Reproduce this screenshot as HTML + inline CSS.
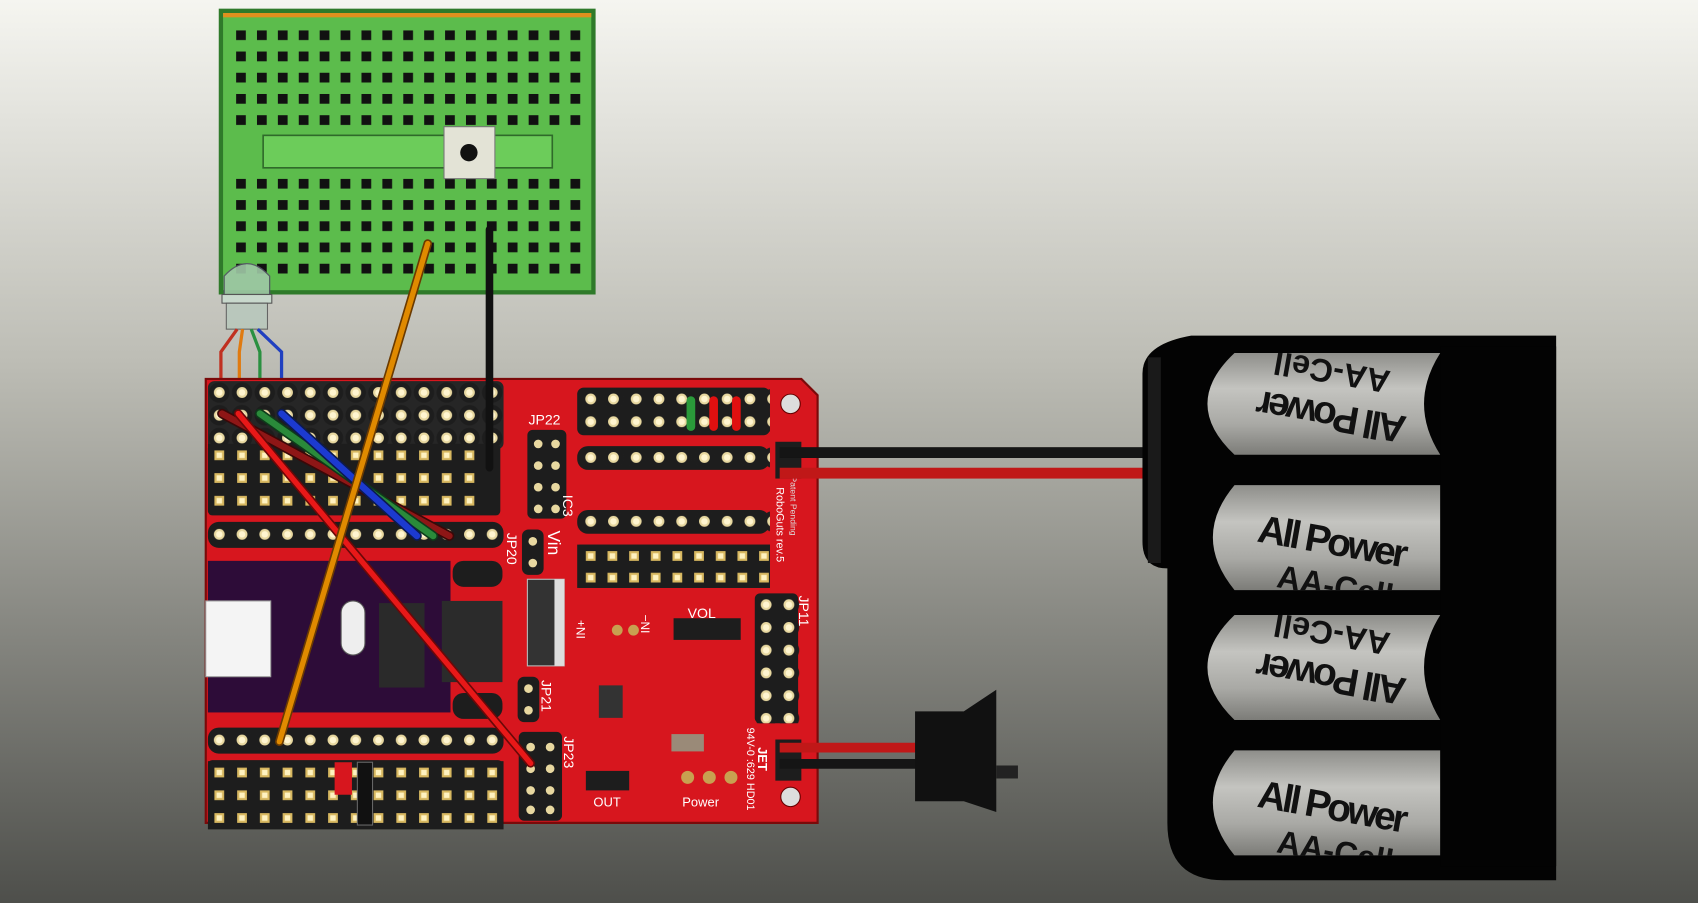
<!DOCTYPE html>
<html><head><meta charset="utf-8"><style>
html,body{margin:0;padding:0;width:1698px;height:903px;overflow:hidden}
svg{display:block}
text{font-family:"Liberation Sans",sans-serif}
</style></head><body>
<svg width="1698" height="903" viewBox="0 0 1568 834" preserveAspectRatio="none" xmlns="http://www.w3.org/2000/svg">
<defs>
<linearGradient id="bg" x1="0" y1="0" x2="0" y2="1">
<stop offset="0" stop-color="#f5f5f0"/><stop offset="0.4" stop-color="#bdbdb5"/><stop offset="1" stop-color="#4e4f4b"/>
</linearGradient>
<linearGradient id="cell" x1="0" y1="0" x2="0" y2="1">
<stop offset="0" stop-color="#8e8e8a"/><stop offset="0.35" stop-color="#c4c4c0"/><stop offset="0.7" stop-color="#a9a9a5"/><stop offset="1" stop-color="#7c7c78"/>
</linearGradient>
<pattern id="bbholes" x="218" y="28" width="19.3" height="19.6" patternUnits="userSpaceOnUse">
<rect x="0" y="0" width="9" height="9" fill="#111"/></pattern>
<g id="pc"><circle cx="10.5" cy="10.5" r="9.5" fill="#1d1d1d"/><circle cx="10.5" cy="10.5" r="5" fill="#e8d8a0"/><circle cx="10.5" cy="10.5" r="3" fill="#fff5d0"/></g>
<g id="ps"><rect x="0" y="0" width="21" height="21" fill="#1d1d1d"/><rect x="6" y="6" width="9" height="9" fill="#d8b860"/><rect x="8" y="8" width="5" height="5" fill="#fff2c0"/></g>
<pattern id="c1" x="192" y="352" width="21" height="21" patternUnits="userSpaceOnUse"><use href="#pc"/></pattern>
<pattern id="c2" x="192" y="483" width="21" height="21" patternUnits="userSpaceOnUse"><use href="#pc"/></pattern>
<pattern id="c3" x="192" y="673" width="21" height="21" patternUnits="userSpaceOnUse"><use href="#pc"/></pattern>
<pattern id="c4" x="535" y="358" width="21" height="21" patternUnits="userSpaceOnUse"><use href="#pc"/></pattern>
<pattern id="c5" x="535" y="412" width="21" height="21" patternUnits="userSpaceOnUse"><use href="#pc"/></pattern>
<pattern id="c6" x="535" y="471" width="21" height="21" patternUnits="userSpaceOnUse"><use href="#pc"/></pattern>
<pattern id="c7" x="697" y="548" width="21" height="21" patternUnits="userSpaceOnUse"><use href="#pc"/></pattern>
<pattern id="s1" x="192" y="410" width="21" height="21" patternUnits="userSpaceOnUse"><use href="#ps"/></pattern>
<pattern id="s2" x="192" y="703" width="21" height="21" patternUnits="userSpaceOnUse"><use href="#ps"/></pattern>
<pattern id="s3" x="535" y="503" width="20" height="20" patternUnits="userSpaceOnUse"><use href="#ps"/></pattern>
<clipPath id="k1"><rect x="1090" y="326" width="240" height="94"/></clipPath>
<clipPath id="k2"><rect x="1090" y="448" width="240" height="97"/></clipPath>
<clipPath id="k3"><rect x="1090" y="568" width="240" height="97"/></clipPath>
<clipPath id="k4"><rect x="1090" y="693" width="240" height="97"/></clipPath>
</defs>
<rect width="1568" height="834" fill="url(#bg)"/>

<!-- breadboard -->
<rect x="202" y="8" width="348" height="264" fill="#2f7a2a"/>
<rect x="206" y="12" width="340" height="256" fill="#5cbc4c"/>
<rect x="206" y="12" width="340" height="4" fill="#e0901e"/>
<rect x="218" y="28" width="318" height="96" fill="url(#bbholes)"/>
<rect x="218" y="165" width="318" height="92" fill="url(#bbholes)"/>
<rect x="243" y="125" width="267" height="30" fill="#6ccc5a" stroke="#2f6a2a" stroke-width="1.5"/>
<rect x="410" y="117" width="47" height="48" fill="#e3e3d6" stroke="#777" stroke-width="1"/>
<circle cx="433" cy="141" r="8" fill="#111"/>

<!-- LED -->
<path d="M207,272 L207,255 Q228,232 249,255 L249,272 Z" fill="#9fc8a6" stroke="#556" stroke-width="1.2" opacity="0.9"/>
<rect x="205" y="272" width="46" height="8" fill="#c8d8cc" stroke="#555"/>
<rect x="209" y="280" width="38" height="24" fill="#b8c8bc" stroke="#555" opacity="0.85"/>
<g fill="none" stroke-width="3">
<path d="M219,304 L204,325 L204,360" stroke="#c03020"/>
<path d="M224,304 L221,325 L221,360" stroke="#e07a10"/>
<path d="M232,304 L240,325 L240,360" stroke="#2a9040"/>
<path d="M238,304 L260,325 L260,360" stroke="#2040c0"/>
</g>

<!-- red board -->
<path d="M190,350 L740,350 L755,365 L755,760 L190,760 Z" fill="#d7161e" stroke="#7a0a0a" stroke-width="2"/>
<rect x="192" y="352" width="273" height="63" rx="6" fill="#262626"/>
<rect x="192" y="352" width="273" height="63" fill="url(#c1)"/>
<rect x="192" y="410" width="270" height="66" rx="4" fill="#1d1d1d"/>
<rect x="192" y="410" width="252" height="63" fill="url(#s1)"/>
<rect x="192" y="482" width="273" height="24" rx="10" fill="#1d1d1d"/>
<rect x="192" y="483" width="273" height="21" fill="url(#c2)"/>
<rect x="192" y="518" width="224" height="140" fill="#2d0c38"/>
<rect x="190" y="555" width="60" height="70" fill="#f4f4f4" stroke="#999"/>
<rect x="315" y="555" width="22" height="50" rx="11" fill="#eee" stroke="#555"/>
<rect x="350" y="557" width="42" height="78" fill="#2a2a2a"/>
<rect x="418" y="518" width="46" height="24" rx="10" fill="#1d1d1d"/>
<rect x="408" y="555" width="56" height="75" fill="#2b2b2b"/>
<rect x="418" y="640" width="46" height="24" rx="10" fill="#1d1d1d"/>
<rect x="192" y="672" width="273" height="24" rx="10" fill="#1d1d1d"/>
<rect x="192" y="673" width="273" height="21" fill="url(#c3)"/>
<rect x="192" y="702" width="272" height="62" rx="4" fill="#1d1d1d"/>
<rect x="192" y="703" width="273" height="63" fill="url(#s2)"/>
<rect x="309" y="704" width="16" height="30" fill="#d7161e"/>
<rect x="330" y="704" width="14" height="58" fill="#111" stroke="#666"/>

<rect x="487" y="397" width="36" height="82" rx="5" fill="#1d1d1d"/>
<g fill="#e8d8a0"><circle cx="497" cy="410" r="4"/><circle cx="513" cy="410" r="4"/><circle cx="497" cy="430" r="4"/><circle cx="513" cy="430" r="4"/><circle cx="497" cy="450" r="4"/><circle cx="513" cy="450" r="4"/><circle cx="497" cy="470" r="4"/><circle cx="513" cy="470" r="4"/></g>
<rect x="482" y="489" width="20" height="42" rx="6" fill="#1d1d1d"/>
<g fill="#e8d8a0"><circle cx="492" cy="500" r="4"/><circle cx="492" cy="520" r="4"/></g>
<rect x="487" y="535" width="34" height="80" fill="#333" stroke="#bbb"/>
<rect x="512" y="535" width="9" height="80" fill="#ddd"/>
<rect x="478" y="625" width="20" height="42" rx="6" fill="#1d1d1d"/>
<g fill="#e8d8a0"><circle cx="488" cy="636" r="4"/><circle cx="488" cy="656" r="4"/></g>
<rect x="479" y="676" width="40" height="82" rx="5" fill="#1d1d1d"/>
<g fill="#e8d8a0"><circle cx="490" cy="690" r="4"/><circle cx="508" cy="690" r="4"/><circle cx="490" cy="710" r="4"/><circle cx="508" cy="710" r="4"/><circle cx="490" cy="730" r="4"/><circle cx="508" cy="730" r="4"/><circle cx="490" cy="748" r="4"/><circle cx="508" cy="748" r="4"/></g>
<g fill="#fff" font-size="13">
<text x="488" y="392">JP22</text>
<text transform="translate(468,492) rotate(90)">JP20</text>
<text transform="translate(506,490) rotate(90)" font-size="16">Vin</text>
<text transform="translate(500,628) rotate(90)">JP21</text>
<text transform="translate(521,680) rotate(90)">JP23</text>
<text transform="translate(520,457) rotate(90)">IC3</text>
<text transform="translate(738,550) rotate(90)">JP11</text>
<text x="635" y="571">VOL</text>
<text transform="translate(540,590) rotate(-90)" font-size="11">IN+</text>
<text transform="translate(600,585) rotate(-90)" font-size="11">IN−</text>
<text x="548" y="745" font-size="12">OUT</text>
<text x="630" y="745" font-size="12">Power</text>
<text transform="translate(717,450) rotate(90)" font-size="10">RoboGuts rev.5</text>
<text transform="translate(730,440) rotate(90)" font-size="8" fill="#ddd">Patent Pending</text>
<text transform="translate(690,672) rotate(90)" font-size="10">94V-0 :629 HD01</text>
<text transform="translate(700,690) rotate(90)" font-size="12" font-weight="bold">JET</text>
</g>
<rect x="533" y="358" width="178" height="44" rx="6" fill="#1d1d1d"/>
<rect x="535" y="358" width="176" height="42" fill="url(#c4)"/>
<rect x="634" y="366" width="8" height="32" rx="4" fill="#2a9a3a"/>
<rect x="655" y="366" width="8" height="32" rx="4" fill="#e01010"/>
<rect x="676" y="366" width="8" height="32" rx="4" fill="#e01010"/>
<rect x="533" y="412" width="178" height="22" rx="10" fill="#1d1d1d"/>
<rect x="535" y="412" width="176" height="21" fill="url(#c5)"/>
<rect x="533" y="471" width="178" height="22" rx="10" fill="#1d1d1d"/>
<rect x="535" y="471" width="176" height="21" fill="url(#c6)"/>
<rect x="533" y="503" width="178" height="40" fill="#1d1d1d"/>
<rect x="535" y="503" width="176" height="40" fill="url(#s3)"/>
<rect x="622" y="571" width="62" height="20" fill="#1d1d1d"/>
<rect x="697" y="548" width="40" height="120" rx="5" fill="#1d1d1d"/>
<rect x="697" y="548" width="42" height="120" fill="url(#c7)"/>
<rect x="541" y="712" width="40" height="18" fill="#1d1d1d"/>
<rect x="553" y="633" width="22" height="30" fill="#333"/>
<rect x="620" y="678" width="30" height="16" fill="#9a8a78"/>
<g fill="#c8a050"><circle cx="635" cy="718" r="6"/><circle cx="655" cy="718" r="6"/><circle cx="675" cy="718" r="6"/><circle cx="570" cy="582" r="5"/><circle cx="585" cy="582" r="5"/></g>
<circle cx="730" cy="373" r="9" fill="#ddd" stroke="#600"/>
<circle cx="730" cy="736" r="9" fill="#ddd" stroke="#600"/>
<rect x="716" y="408" width="24" height="34" fill="#1d1d1d"/>
<rect x="716" y="683" width="24" height="38" fill="#1d1d1d"/>

<g stroke-linecap="round" fill="none">
<line x1="452" y1="212" x2="452" y2="432" stroke="#111" stroke-width="7"/>
<line x1="205" y1="382" x2="415" y2="495" stroke="#3a0808" stroke-width="9"/>
<line x1="205" y1="382" x2="415" y2="495" stroke="#8e1616" stroke-width="6"/>
<line x1="240" y1="382" x2="400" y2="495" stroke="#0e3a1a" stroke-width="9"/>
<line x1="240" y1="382" x2="400" y2="495" stroke="#2a8a3a" stroke-width="6"/>
<line x1="260" y1="382" x2="385" y2="495" stroke="#0c1a50" stroke-width="9"/>
<line x1="260" y1="382" x2="385" y2="495" stroke="#1c3ad0" stroke-width="6"/>
<line x1="220" y1="382" x2="490" y2="705" stroke="#6a0808" stroke-width="8"/>
<line x1="220" y1="382" x2="490" y2="705" stroke="#e81818" stroke-width="5"/>
<line x1="395" y1="225" x2="258" y2="685" stroke="#6a3a00" stroke-width="8"/>
<line x1="395" y1="225" x2="258" y2="685" stroke="#e08a00" stroke-width="5"/>
</g>
<rect x="720" y="413" width="355" height="10" fill="#151515"/>
<rect x="720" y="432" width="355" height="10" fill="#c01818"/>
<rect x="720" y="686" width="130" height="9" fill="#c01818"/>
<rect x="720" y="701" width="130" height="9" fill="#151515"/>

<path d="M845,657 L890,657 L920,637 L920,750 L890,740 L845,740 Z" fill="#111"/>
<rect x="920" y="707" width="20" height="12" fill="#222"/>

<path d="M1100,310 L1437,310 L1437,813 L1130,813 Q1078,813 1078,760 L1078,525 Q1055,525 1055,500 L1055,345 Q1055,318 1100,310 Z" fill="#030303"/>
<rect x="1060" y="330" width="12" height="190" fill="#1a1a1a"/>
<path d="M1140,326 L1330,326 Q1300,373 1330,420 L1140,420 Q1090,373 1140,326 Z" fill="url(#cell)"/>
<path d="M1140,448 L1330,448 L1330,545 L1140,545 Q1100,496 1140,448 Z" fill="url(#cell)"/>
<path d="M1140,568 L1330,568 Q1300,616 1330,665 L1140,665 Q1090,616 1140,568 Z" fill="url(#cell)"/>
<path d="M1140,693 L1330,693 L1330,790 L1140,790 Q1100,741 1140,693 Z" fill="url(#cell)"/>
<g font-weight="bold" font-size="36" fill="#111">
<g clip-path="url(#k1)"><text transform="translate(1300,385) rotate(190)" textLength="140">All Power</text>
<text transform="translate(1285,343) rotate(190)" font-size="30">AA-Cell</text></g>
<g clip-path="url(#k2)"><text transform="translate(1160,500) rotate(10)" textLength="140">All Power</text>
<text transform="translate(1178,542) rotate(10)" font-size="30">AA-Cell</text></g>
<g clip-path="url(#k3)"><text transform="translate(1300,627) rotate(190)" textLength="140">All Power</text>
<text transform="translate(1285,585) rotate(190)" font-size="30">AA-Cell</text></g>
<g clip-path="url(#k4)"><text transform="translate(1160,745) rotate(10)" textLength="140">All Power</text>
<text transform="translate(1178,787) rotate(10)" font-size="30">AA-Cell</text></g>
</g>
<rect x="1330" y="320" width="107" height="480" fill="#030303"/>
</svg>
</body></html>
